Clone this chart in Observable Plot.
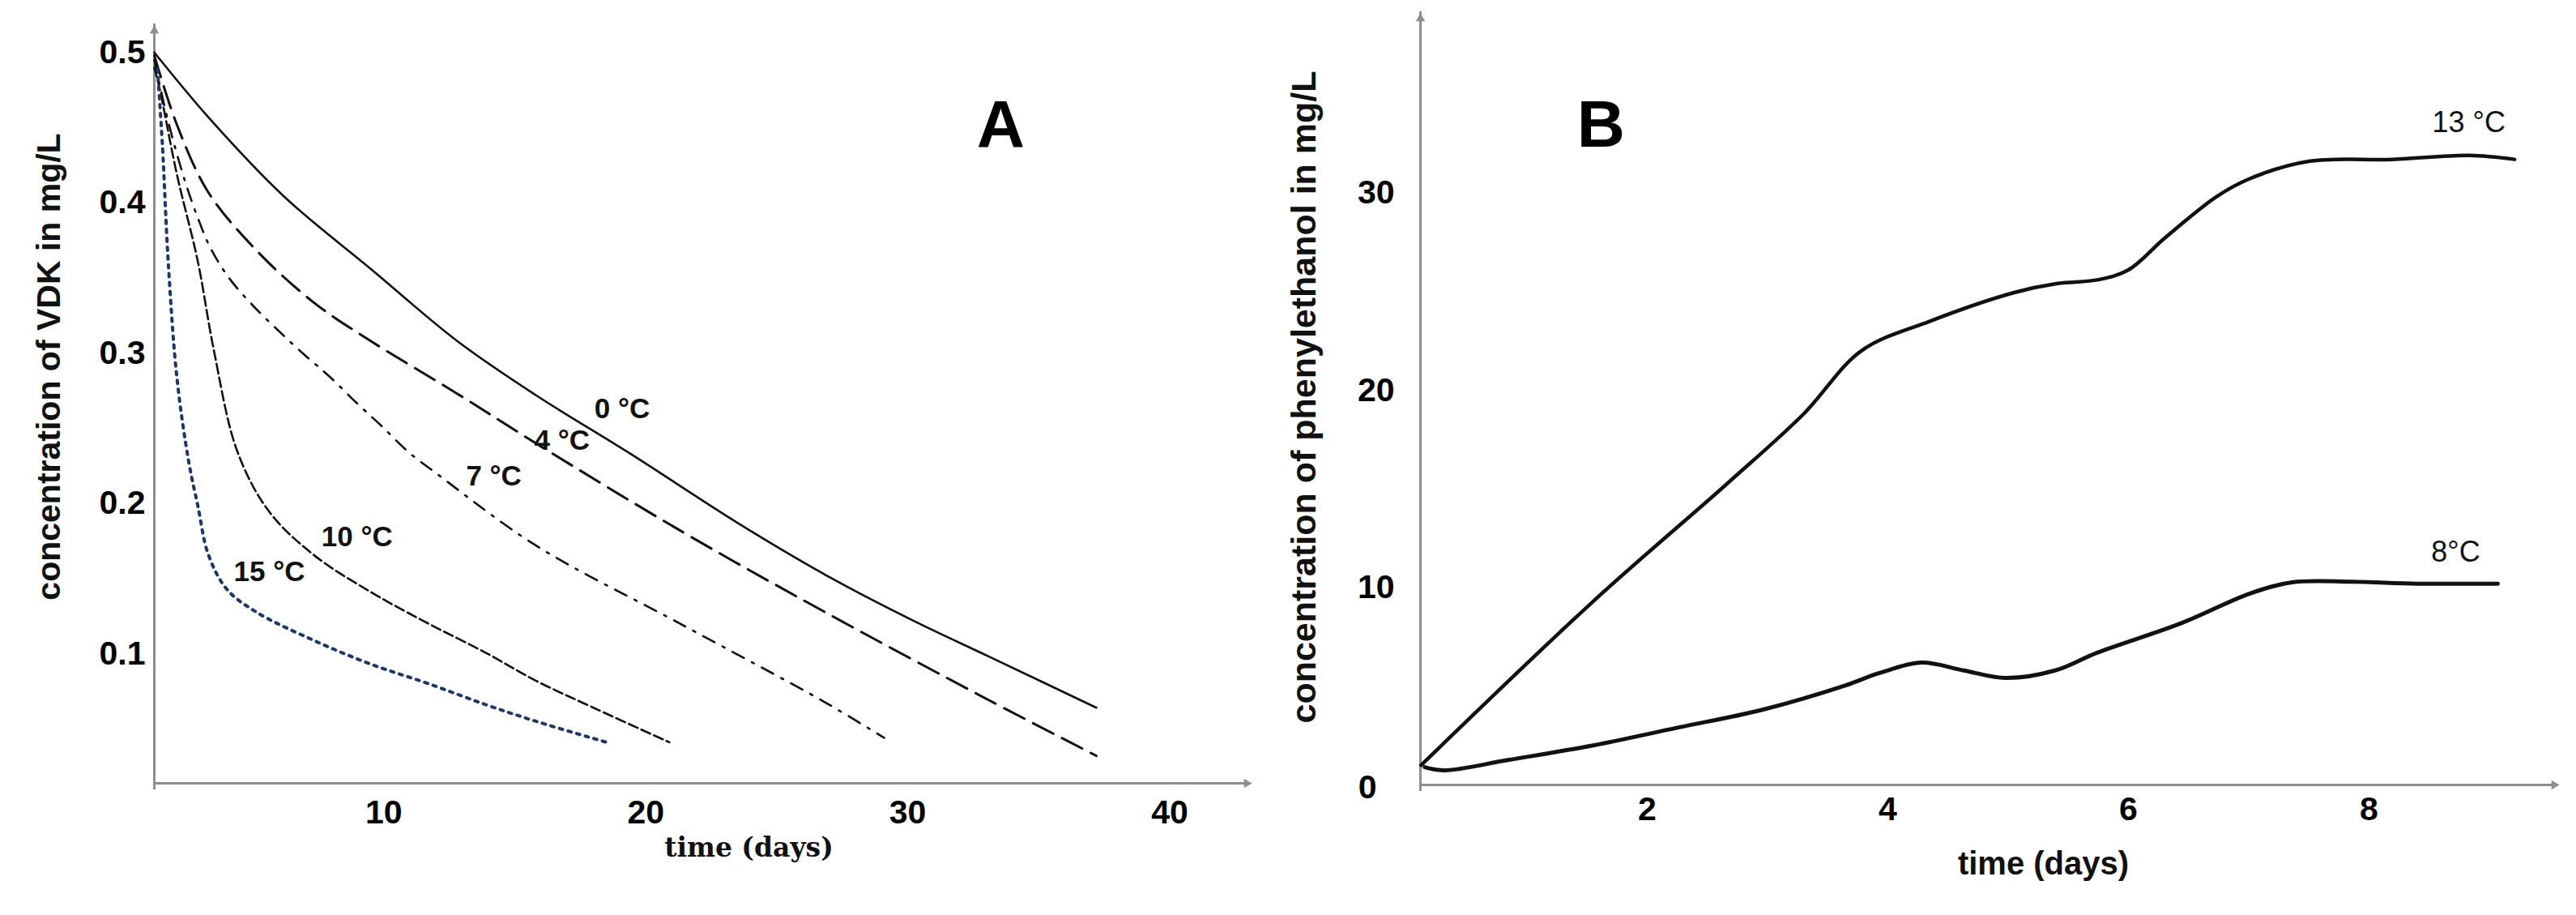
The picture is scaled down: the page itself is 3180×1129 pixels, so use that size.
<!DOCTYPE html>
<html><head><meta charset="utf-8">
<script src="https://cdn.jsdelivr.net/npm/d3@7"></script>
<script src="https://cdn.jsdelivr.net/npm/@observablehq/plot@0.6"></script>
<style>
html,body{margin:0;padding:0;background:#fff;}
#wrap{position:relative;width:3180px;height:1129px;overflow:hidden;background:#fff;}
#a,#b{position:absolute;top:0;}
#a{left:0;} #b{left:1560px;}
svg{max-width:none !important;background:transparent !important;}
</style></head><body><div id="wrap"><div id="a"></div><div id="b"></div></div>
<script>
// ---------- Panel A: VDK ----------
const aDays0  = [1.24, 3.4, 6.2, 9.5, 12.8, 15.8, 19.5, 23.5, 27, 30.2, 33.1, 37.2];
const aConc0  = [0.5, 0.455, 0.404, 0.356, 0.308, 0.272, 0.232, 0.187, 0.151, 0.122, 0.098, 0.064];
const aDays4  = [1.24, 2.1, 3.3, 5.1, 7.3, 9.5, 12.8, 15.8, 21.3, 26.8, 33.1, 37.2];
const aConc4  = [0.498, 0.452, 0.407, 0.369, 0.334, 0.308, 0.273, 0.240, 0.182, 0.128, 0.069, 0.032];
const aDays7  = [1.24, 1.77, 2.4, 2.9, 3.38, 4.09, 4.98, 5.97, 6.96, 7.95, 8.95, 9.94, 10.95, 12, 15.8, 21.3, 26.8, 29.1];
const aConc7  = [0.495, 0.454, 0.415, 0.39, 0.37, 0.35, 0.332, 0.315, 0.299, 0.284, 0.267, 0.251, 0.234, 0.22, 0.172, 0.12, 0.068, 0.044];
const aDays10 = [1.24, 1.43, 2.1, 2.9, 3.5, 4.4, 5.6, 7.3, 9.5, 11.7, 13.9, 15.8, 18, 20.9];
const aConc10 = [0.49, 0.477, 0.419, 0.361, 0.303, 0.235, 0.195, 0.166, 0.141, 0.12, 0.1005, 0.082, 0.064, 0.041];
const aDays15 = [1.36, 1.55, 1.77, 2.1, 2.55, 2.9, 3.3, 4, 5.1, 7.3, 9.5, 11.7, 13.9, 15.8, 18.5];
const aConc15 = [0.489, 0.438, 0.361, 0.284, 0.228, 0.1985, 0.166, 0.143, 0.128, 0.109, 0.093, 0.08, 0.066, 0.055, 0.041];
const aLabels = ["0 °C", "4 °C", "7 °C", "10 °C", "15 °C"];
const aLabelX = [19.1, 16.8, 14.2, 8.98, 5.63];
const aLabelY = [0.2628, 0.2418, 0.218, 0.1776, 0.1544];
const aXTicks = [10, 20, 30, 40];
const aYTicks = [0.1, 0.2, 0.3, 0.4, 0.5];
const aXDomain = [1.24, 43.2];
const aYDomain = [0.0137, 0.519];

// ---------- Panel B: phenylethanol ----------
const bDays13 = [0.12, 1.55, 2.67, 3.3, 3.78, 4.35, 5.05, 5.4, 5.75, 6.0, 6.3, 6.73, 7.0, 7.5, 8.2, 8.83, 9.21];
const bConc13 = [1.0, 9.3, 15.3, 18.8, 22.0, 23.5, 24.95, 25.4, 25.6, 26.1, 27.7, 29.8, 30.7, 31.6, 31.7, 31.9, 31.7];
const bDays8  = [0.15, 0.32, 0.85, 1.55, 2.25, 2.95, 3.65, 3.93, 4.28, 4.63, 4.98, 5.39, 5.74, 6.44, 7.01, 7.36, 7.85, 8.4, 9.07];
const bConc8  = [0.9, 0.74, 1.27, 2.0, 2.9, 3.8, 5.05, 5.67, 6.2, 5.8, 5.42, 5.8, 6.7, 8.2, 9.7, 10.27, 10.3, 10.2, 10.2];
const bLabels = ["13 °C", "8°C"];
const bLabelX = [8.83, 8.72];
const bLabelY = [33.55, 11.79];
const bXTicks = [2, 4, 6, 8];
const bYTicks = [10, 20, 30];
const bYZeroTick = [0];
const bXDomain = [0.1145, 9.596];
const bYDomain = [0, 39.18];

const SANS = "'Liberation Sans', Arial, Helvetica, sans-serif";
const AXIS = "#8e8e8e";
const tbl = (xs, ys) => xs.map((t, i) => ({t, c: ys[i]}));

function axesMarks(xd, yd) {
  return [
    Plot.ruleX([xd[0]], {y1: yd[0], y2: yd[1], stroke: AXIS, strokeWidth: 3, insetTop: 8}),
    Plot.ruleY([yd[0]], {x1: xd[0], x2: xd[1], stroke: AXIS, strokeWidth: 3, insetRight: 8}),
    Plot.dot([{x: xd[0], y: yd[1]}], {x: "x", y: "y", symbol: "triangle2", r: 5.5, fill: AXIS, stroke: "none", dy: 8.5}),
    Plot.dot([{x: xd[1], y: yd[0]}], {x: "x", y: "y", symbol: "triangle2", r: 5.5, fill: AXIS, stroke: "none", rotate: 90, dx: -8.5})
  ];
}

const plotA = Plot.plot({
  width: 1560, height: 1129,
  marginLeft: 190, marginRight: 13, marginTop: 29, marginBottom: 163,
  x: {domain: aXDomain},
  y: {domain: aYDomain},
  style: {fontFamily: SANS, background: "transparent", color: "#000"},
  marks: [
    ...axesMarks(aXDomain, aYDomain),
    Plot.axisX({ticks: aXTicks, tickSize: 0, tickPadding: 20, fontSize: 41, fontWeight: "bold", label: null, tickFormat: d3.format("d")}),
    Plot.axisY({ticks: aYTicks, tickSize: 0, tickPadding: 11, fontSize: 41, fontWeight: "bold", label: null, tickFormat: d3.format(".1f")}),
    Plot.line(tbl(aDays0, aConc0), {x: "t", y: "c", curve: "catmull-rom", stroke: "#111", strokeWidth: 2.6}),
    Plot.line(tbl(aDays4, aConc4), {x: "t", y: "c", curve: "catmull-rom", stroke: "#111", strokeWidth: 3, strokeDasharray: "28,12"}),
    Plot.line(tbl(aDays7, aConc7), {x: "t", y: "c", curve: "catmull-rom", stroke: "#111", strokeWidth: 2.6, strokeDasharray: "16,11,3,11"}),
    Plot.line(tbl(aDays10, aConc10), {x: "t", y: "c", curve: "catmull-rom", stroke: "#111", strokeWidth: 2.6, strokeDasharray: "12,5"}),
    Plot.line(tbl(aDays15, aConc15), {x: "t", y: "c", curve: "catmull-rom", stroke: "#1f3765", strokeWidth: 4, strokeDasharray: "4,7"}),
    Plot.text(aLabels, {x: (d, i) => aLabelX[i], y: (d, i) => aLabelY[i], text: d => d, fontSize: 35, fontWeight: "bold", fill: "#111"}),
    Plot.text(["A"], {x: () => 33.55, y: () => 0.4516, text: d => d, fontSize: 82, fontWeight: "bold", fill: "#000"}),
    Plot.text(["concentration of VDK in mg/L"], {frameAnchor: "left", textAnchor: "middle", rotate: -90, dx: -130, dy: -45.5, fontSize: 41, fontWeight: "bold", fill: "#111"}),
    Plot.text(["time (days)"], {frameAnchor: "bottom", dx: 55.5, dy: 90, fontSize: 33, fontWeight: "bold", fontFamily: "'DejaVu Serif', serif", fill: "#111"})
  ]
});
document.getElementById("a").appendChild(plotA);

const plotB = Plot.plot({
  width: 1620, height: 1129,
  marginLeft: 193, marginRight: 19, marginTop: 14, marginBottom: 161,
  x: {domain: bXDomain},
  y: {domain: bYDomain},
  style: {fontFamily: SANS, background: "transparent", color: "#000"},
  marks: [
    ...axesMarks(bXDomain, bYDomain),
    Plot.axisX({ticks: bXTicks, tickSize: 0, tickPadding: 14, fontSize: 41, fontWeight: "bold", label: null, tickFormat: d3.format("d")}),
    Plot.axisY({ticks: bYTicks, tickSize: 0, tickPadding: 32, fontSize: 41, fontWeight: "bold", label: null, tickFormat: d3.format("d")}),
    Plot.axisY({ticks: bYZeroTick, tickSize: 0, tickPadding: 54, dy: 3, fontSize: 41, fontWeight: "bold", label: null, tickFormat: d3.format("d")}),
    Plot.line(tbl(bDays13, bConc13), {x: "t", y: "c", curve: "catmull-rom", stroke: "#111", strokeWidth: 4.5}),
    Plot.line(tbl(bDays8, bConc8), {x: "t", y: "c", curve: "catmull-rom", stroke: "#111", strokeWidth: 5}),
    Plot.text(bLabels, {x: (d, i) => bLabelX[i], y: (d, i) => bLabelY[i], text: d => d, fontSize: 36, fontWeight: (d, i) => i === 0 ? "normal" : "bold", fill: "#111"}),
    Plot.text(["B"], {x: () => 1.616, y: () => 33.43, text: d => d, fontSize: 82, fontWeight: "bold", fill: "#000"}),
    Plot.text(["concentration of phenylethanol in mg/L"], {frameAnchor: "left", textAnchor: "middle", rotate: -90, dx: -143, dy: -1.5, fontSize: 43, fontWeight: "bold", fill: "#111"}),
    Plot.text(["time (days)"], {frameAnchor: "bottom", dx: 65, dy: 110, fontSize: 40, fontWeight: "bold", fill: "#111"})
  ]
});
document.getElementById("b").appendChild(plotB);
</script>
</body></html>
